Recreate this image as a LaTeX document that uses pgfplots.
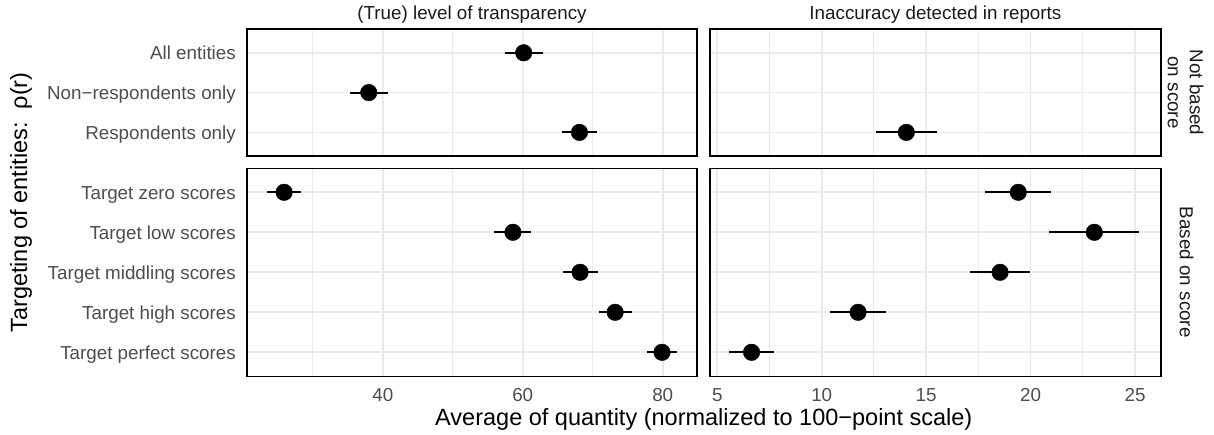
\documentclass[border=0pt]{standalone}
\usepackage{pgfplots}
\pgfplotsset{compat=1.18}
\usepackage{fontspec}
\setmainfont{Liberation Sans}
\definecolor{gridc}{HTML}{EBEBEB}
\definecolor{tickc}{HTML}{4D4D4D}
\definecolor{stripc}{HTML}{1A1A1A}
\newcommand\tickfont{\fontsize{18.8bp}{22bp}\selectfont}
\newcommand\titlefont{\fontsize{23.5bp}{27bp}\selectfont}
\pgfplotsset{
  panel/.style={
    scale only axis,
    axis line style={black, line width=1.6bp},
    major tick length=0pt, minor tick length=0pt,
    tick style={draw=none},
    xmajorgrids, xminorgrids, ymajorgrids,
    major grid style={draw=gridc, line width=1.8bp},
    minor grid style={draw=gridc, line width=1bp},
    y dir=reverse,
    ymin=0.4,
    /pgf/number format/assume math mode=true,
    xticklabel style={font=\tickfont, text=tickc, anchor=base, inner sep=0pt, yshift=-24.7bp},
    yticklabel style={font=\tickfont, text=tickc, anchor=base east, inner sep=0pt, xshift=-11bp, yshift=-6.7bp},
  },
  leftx/.style={xmin=20.6, xmax=84.9, xtick={40,60,80}, minor xtick={30,50,70}},
  rightx/.style={xmin=4.65, xmax=26.23, xtick={5,10,15,20,25}, minor xtick={7.5,12.5,17.5,22.5}},
  dots/.style={only marks, mark=*, mark size=8.3bp, mark options={fill=black, draw=black},
    error bars/.cd, x dir=both, x explicit, error mark=none,
    error bar style={line width=2bp, black}},
}
\begin{document}
\begin{tikzpicture}
\useasboundingbox (0,0) rectangle (1214bp,435bp);
% top-left
\begin{axis}[panel, leftx, at={(247bp,278.7bp)}, anchor=south west,
  width=450bp, height=127.4bp, ymax=3.6, ytick={1,2,3},
  yticklabels={All entities, Non−respondents only, Respondents only},
  xticklabels={}]
\addplot[dots] coordinates {
  (60.14,1) +- (2.7,0)
  (38.0,2) +- (2.75,0)
  (68.1,3) +- (2.55,0)
};
\end{axis}
% top-right
\begin{axis}[panel, rightx, at={(710bp,278.7bp)}, anchor=south west,
  width=450.7bp, height=127.4bp, ymax=3.6, ytick={1,2,3},
  yticklabels={}, xticklabels={}]
\addplot[dots] coordinates {
  (14.05,3) +- (1.45,0)
};
\end{axis}
% bottom-left
\begin{axis}[panel, leftx, at={(247bp,58.7bp)}, anchor=south west,
  width=450bp, height=208bp, ymax=5.6, ytick={1,2,3,4,5},
  yticklabels={Target zero scores, Target low scores, Target middling scores, Target high scores, Target perfect scores}]
\addplot[dots] coordinates {
  (25.9,1) +- (2.4,0)
  (58.6,2) +- (2.65,0)
  (68.2,3) +- (2.5,0)
  (73.2,4) +- (2.35,0)
  (79.9,5) +- (2.15,0)
};
\end{axis}
% bottom-right
\begin{axis}[panel, rightx, at={(710bp,58.7bp)}, anchor=south west,
  width=450.7bp, height=208bp, ymax=5.6, ytick={1,2,3,4,5},
  yticklabels={}]
\addplot[dots] coordinates {
  (19.41,1) +- (1.58,0)
  (23.05,2) +- (2.15,0)
  (18.54,3) +- (1.45,0)
  (11.74,4) +- (1.34,0)
  (6.64,5) +- (1.08,0)
};
\end{axis}
% strip labels
\node[anchor=base, inner sep=0pt, text=stripc, font=\tickfont] at (472bp,415.7bp) {(True) level of transparency};
\node[anchor=base, inner sep=0pt, text=stripc, font=\tickfont] at (935.4bp,415.7bp) {Inaccuracy detected in reports};
\node[rotate=-90, align=center, inner sep=0pt, text=stripc, font=\tickfont] at (1185.5bp,342.4bp) {Not based\\on score};
\node[rotate=-90, inner sep=0pt, text=stripc, font=\tickfont] at (1186.5bp,162.7bp) {Based on score};
% axis titles
\node[anchor=base, inner sep=0pt, font=\titlefont] at (703.8bp,10bp) {Average of quantity (normalized to 100−point scale)};
\node[rotate=90, anchor=base, inner sep=0pt, font=\titlefont] at (27bp,232.5bp) {Targeting of entities:\ \ ρ(r)};
\end{tikzpicture}
\end{document}
